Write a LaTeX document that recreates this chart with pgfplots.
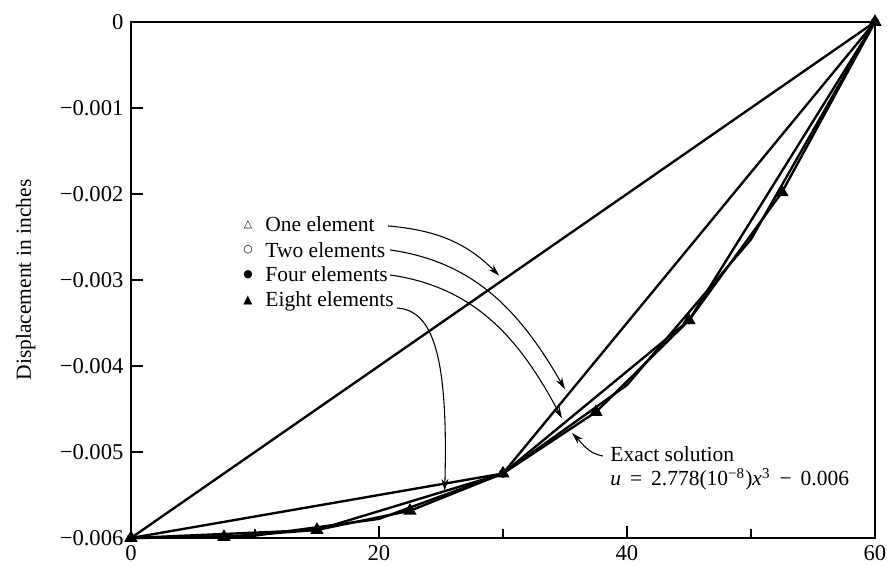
\documentclass[border=0pt]{standalone}
\usepackage{fontspec}
\setmainfont{Liberation Serif}
\newfontfamily\symfont{DejaVu Sans}
\usepackage{pgfplots}
\pgfplotsset{compat=1.18}
\usetikzlibrary{arrows.meta}
\begin{document}
\begin{tikzpicture}[arr/.style={black, line width=0.5pt, -{Stealth[length=5.5pt,width=3.2pt]}}]
\begin{axis}[
  scale only axis, width=346pt, height=240pt,
  xmin=0, xmax=60, ymin=-0.006, ymax=0,
  axis line style={line width=0.7pt},
  tick align=inside, tick pos=left,
  xtick={0,20,40,60}, xticklabels={0,20,40,60},
  minor xtick={10,30,50},
  ytick={-0.006,-0.005,-0.004,-0.003,-0.002,-0.001,0},
  yticklabels={−0.006,−0.005,−0.004,−0.003,−0.002,−0.001,0},
  scaled y ticks=false,
  major tick length=5.5pt, minor tick length=4pt,
  every tick/.style={black, line width=0.7pt},
  ylabel={Displacement in inches},
  ylabel style={at={(axis description cs:-0.1416,0.5)}, anchor=center},
  clip=false,
  ticklabel style={font=\fontsize{10.5}{12}\selectfont},
  label style={font=\fontsize{10}{12}\selectfont},
]
% one element
\addplot[black, line width=1.1pt, mark=triangle, mark size=1.6pt] coordinates {(0,-0.006) (60,0)};
% two elements
\addplot[black, line width=1.1pt, mark=o, mark size=1.4pt] coordinates {(0,-0.006) (30,-0.00525) (60,0)};
% four elements
\addplot[black, line width=1.1pt, mark=*, mark size=1.3pt] coordinates {(0,-0.006) (15,-0.005906) (30,-0.00525) (45,-0.003469) (60,0)};
% eight elements
\addplot[black, line width=1.1pt, mark=triangle*, mark size=2.5pt] coordinates {(0,-0.006) (7.5,-0.005988) (15,-0.005906) (22.5,-0.005684) (30,-0.00525) (37.5,-0.004535) (45,-0.003469) (52.5,-0.001980) (60,0)};
% exact solution
\addplot[black, line width=1.1pt, mark=none] coordinates {(0,-0.006) (10,-0.005972) (20,-0.005778) (30,-0.00525) (40,-0.004222) (50,-0.002528) (60,0)};

% legend-like labels
\node[inner sep=0] at (axis cs:9.44,-0.002361) {\symfont\fontsize{5}{6}\selectfont △};
\node[inner sep=0] at (axis cs:9.44,-0.002651) {\symfont\fontsize{5}{6}\selectfont ○};
\node[inner sep=0] at (axis cs:9.44,-0.002942) {\symfont\fontsize{5}{6}\selectfont ●};
\node[inner sep=0] at (axis cs:9.44,-0.003233) {\symfont\fontsize{5.5}{6}\selectfont ▲};
\node[anchor=base west, inner sep=0] at (axis cs:10.81,-0.002442) {One element};
\node[anchor=base west, inner sep=0] at (axis cs:10.81,-0.002733) {Two elements};
\node[anchor=base west, inner sep=0] at (axis cs:10.81,-0.003023) {Four elements};
\node[anchor=base west, inner sep=0] at (axis cs:10.81,-0.003314) {Eight elements};
\node[anchor=base west, inner sep=0] at (axis cs:38.63,-0.005116) {Exact solution};
\node[anchor=base west, inner sep=0] at (axis cs:38.63,-0.005395) {\textit{u}\, =\, 2.778(10\textsuperscript{−8})\textit{x}\textsuperscript{3}\, −\, 0.006};

% arrows
\draw[arr] (axis cs:20.73,-0.002372) to[out=-5,in=135] (axis cs:29.7,-0.00295);
\draw[arr] (axis cs:20.89,-0.002651) to[out=-8,in=120] (axis cs:35.0,-0.00427);
\draw[arr] (axis cs:20.89,-0.002942) to[out=-8,in=118] (axis cs:34.76,-0.00461);
\draw[arr] (axis cs:21.45,-0.003326) .. controls (axis cs:24.4,-0.00335) and (axis cs:25.6,-0.0039) .. (axis cs:25.3,-0.00545);
\draw[arr] (axis cs:38.06,-0.005047) to[out=170,in=-45] (axis cs:35.56,-0.004779);
\end{axis}
\pgfresetboundingbox
\path ([xshift=-60.9pt,yshift=10.2pt]current axis.north west) rectangle ([xshift=5.6pt,yshift=-12.1pt]current axis.south east);
\end{tikzpicture}
\end{document}
